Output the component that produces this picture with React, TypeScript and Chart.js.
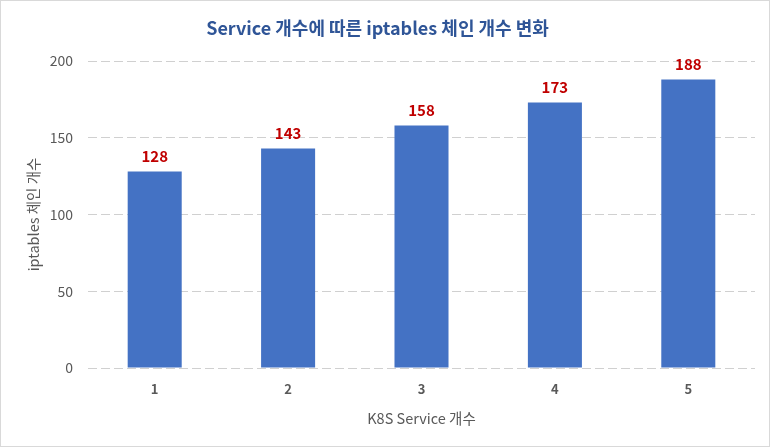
import React, { useEffect, useRef } from "react";
import { Chart, registerables } from "chart.js";

Chart.register(...registerables);

const categories = ["1", "2", "3", "4", "5"];
const chainCounts = [128, 143, 158, 173, 188];
const yTicks = [0, 50, 100, 150, 200];

const FONT = "'Noto Sans CJK KR', 'Noto Sans', sans-serif";

const dataLabelPlugin = {
  id: "dataLabels",
  afterDatasetsDraw(chart: any) {
    const ctx = chart.ctx;
    const meta = chart.getDatasetMeta(0);
    ctx.save();
    ctx.font = `bold 15px ${FONT}`;
    ctx.fillStyle = "#C00000";
    ctx.textAlign = "center";
    ctx.textBaseline = "middle";
    meta.data.forEach((el: any, i: number) => {
      ctx.fillText(String(chainCounts[i]), el.x, el.y - 15);
    });
    ctx.restore();
  },
};

export default function App() {
  const ref = useRef<HTMLCanvasElement>(null);
  useEffect(() => {
    if (!ref.current) return;
    Chart.defaults.font.family = FONT;
    const chart = new Chart(ref.current, {
      type: "bar",
      data: {
        labels: categories,
        datasets: [
          {
            data: chainCounts,
            backgroundColor: "#4472C4",
            categoryPercentage: 1,
            barPercentage: 0.405,
          },
        ],
      },
      options: {
        animation: false,
        responsive: false,
        devicePixelRatio: 1,
        layout: { padding: { top: 0, left: 0, right: 15, bottom: 0 } },
        plugins: {
          legend: { display: false },
          tooltip: { enabled: false },
          title: {
            display: true,
            text: "Service 개수에 따른 iptables 체인 개수 변화",
            color: "#2F5597",
            font: { size: 18, weight: "bold", family: FONT, lineHeight: 1.2 },
            padding: { top: 17.2, bottom: 22.2 },
          },
        },
        scales: {
          x: {
            grid: { display: false, drawTicks: false },
            border: { display: false },
            ticks: {
              color: "#595959",
              font: { size: 13, weight: "bold", family: FONT },
              padding: 13,
            },
            title: {
              display: true,
              text: "K8S Service 개수",
              color: "#595959",
              font: { size: 14.5, family: FONT, lineHeight: 1.2 },
              padding: { top: 4, bottom: 20.3 },
            },
            afterFit(scale: any) {
              scale.height = 79;
            },
          },
          y: {
            min: 0,
            max: 200,
            afterBuildTicks(scale: any) {
              scale.ticks = yTicks.map((v) => ({ value: v }));
            },
            grid: {
              color: "#D0D0D0",
              lineWidth: 1,
              drawTicks: false,
            },
            border: { display: false, dash: [9, 4] },
            ticks: {
              color: "#595959",
              font: { size: 14, family: FONT },
              padding: 15,
            },
            title: {
              display: true,
              text: "iptables 체인 개수",
              color: "#595959",
              font: { size: 14.5, family: FONT, lineHeight: 1.2 },
              padding: { top: 25, bottom: 4 },
            },
            afterFit(scale: any) {
              scale.width = 88;
            },
          },
        },
      },
      plugins: [dataLabelPlugin],
    } as any);
    return () => chart.destroy();
  }, []);

  return (
    <div
      style={{
        position: "fixed",
        left: 0,
        top: 0,
        width: 770,
        height: 447,
        background: "#FFFFFF",
      }}
    >
      <canvas ref={ref} width={770} height={447} style={{ display: "block" }} />
      <div
        style={{
          position: "absolute",
          left: 0,
          top: 0,
          width: 770,
          height: 447,
          boxSizing: "border-box",
          border: "1px solid #D9D9D9",
          pointerEvents: "none",
        }}
      />
    </div>
  );
}
